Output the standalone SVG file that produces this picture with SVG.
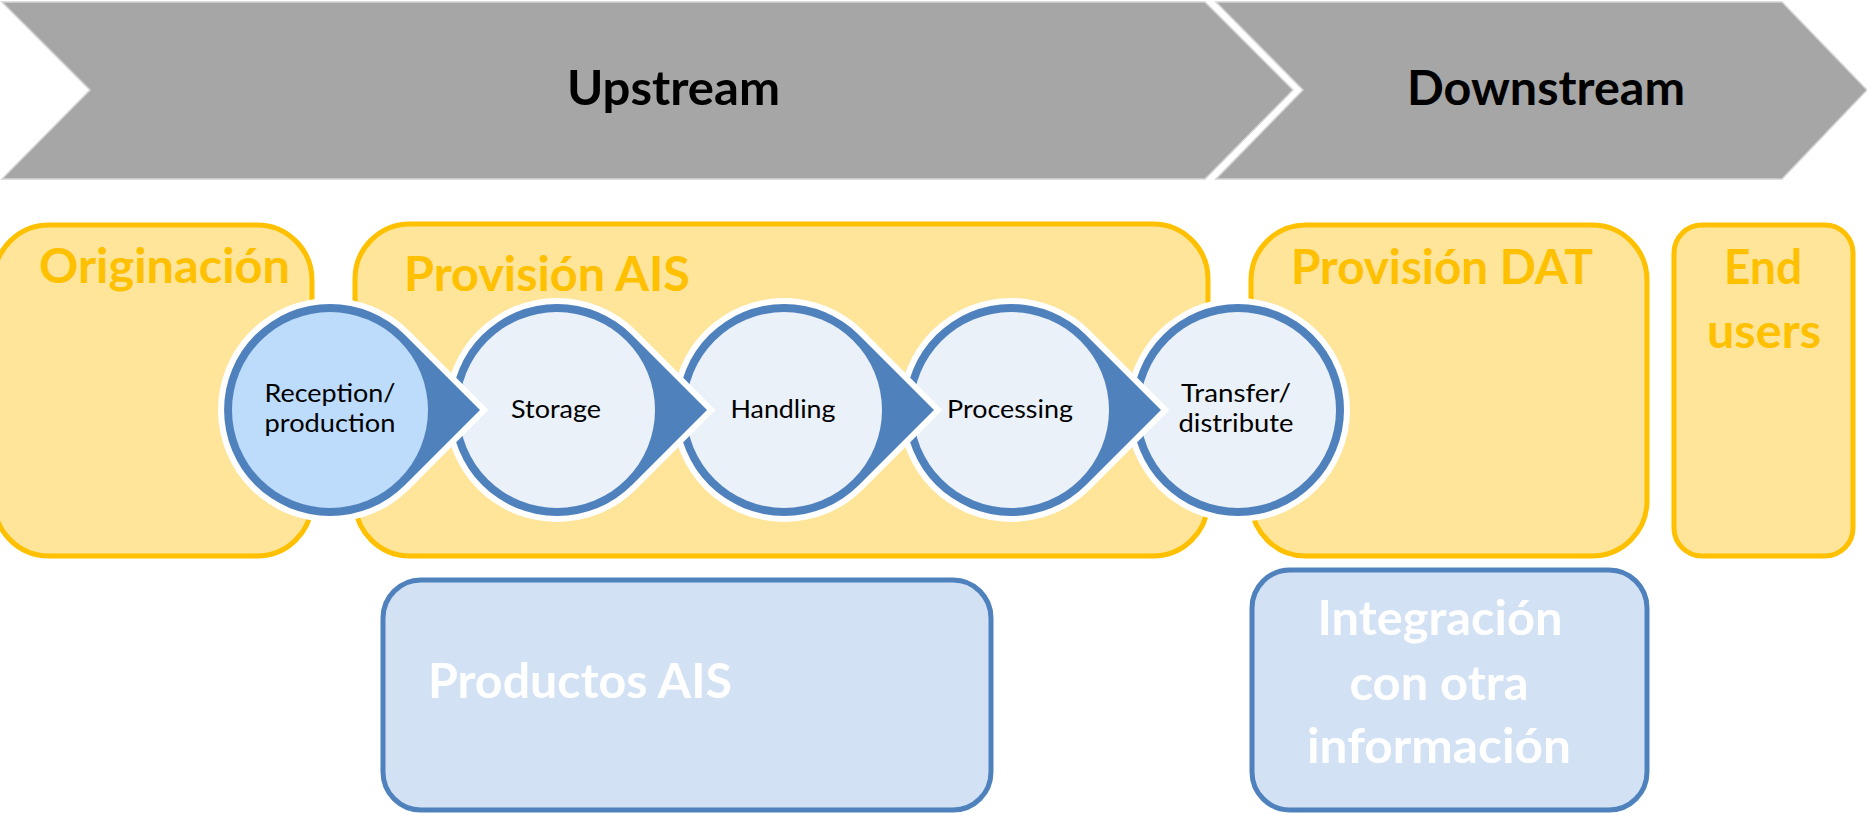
<svg xmlns="http://www.w3.org/2000/svg" width="1867" height="814" viewBox="0 0 1867 814">
<defs>
<style>
.chev{fill:#A6A6A6;stroke:#D4D4D4;stroke-width:1.5}
.ybox{fill:#FFE599;stroke:#FFC000;stroke-width:5}
.bbox{fill:#D2E1F3;stroke:#4F81BD;stroke-width:5}
.ring{fill:#FFFFFF}
.blue{fill:#4F81BD}
.inner{fill:#EBF1F9}
.inner1{fill:#BDDBFB}
.head{font-family:Lato,"Open Sans","Liberation Sans",sans-serif;font-weight:700;font-size:47px;fill:#000}
.ytxt{font-family:Lato,"Open Sans","Liberation Sans",sans-serif;font-weight:700;font-size:47px;fill:#FFC000}
.wtxt{font-family:Lato,"Open Sans","Liberation Sans",sans-serif;font-weight:700;font-size:48px;fill:#FFFFFF}
.ctxt{font-family:Lato,"Open Sans","Liberation Sans",sans-serif;font-weight:400;font-size:25px;fill:#000;text-anchor:middle}
</style>
</defs>
<rect width="1867" height="814" fill="#FFFFFF"/>

<g id="upstream">
<polygon class="chev" points="2,2 1205,2 1293,90 1205,179 2,179 90,90"/>
<text class="head" x="567" y="105" textLength="213" lengthAdjust="spacingAndGlyphs">Upstream</text>
</g>
<g id="downstream">
<polygon class="chev" points="1216,2 1782,2 1867,90 1782,179 1216,179 1303,90"/>
<text class="head" x="1407" y="105" textLength="278" lengthAdjust="spacingAndGlyphs">Downstream</text>
</g>

<g id="originacion">
<rect class="ybox" x="-6" y="225" width="318" height="331" rx="55" ry="55"/>
<text class="ytxt" x="39" y="283" textLength="251" lengthAdjust="spacingAndGlyphs">Originación</text>
</g>
<g id="provision-ais">
<rect class="ybox" x="355" y="224" width="853" height="332" rx="55" ry="55"/>
<text class="ytxt" x="404" y="291" textLength="286" lengthAdjust="spacingAndGlyphs">Provisión AIS</text>
</g>
<g id="provision-dat">
<rect class="ybox" x="1251" y="225" width="396" height="331" rx="55" ry="55"/>
<text class="ytxt" x="1291" y="284" textLength="302" lengthAdjust="spacingAndGlyphs">Provisión DAT</text>
</g>
<g id="end-users">
<rect class="ybox" x="1674" y="225" width="179" height="331" rx="28" ry="28"/>
<text class="ytxt" x="1763" y="284" text-anchor="middle" textLength="78" lengthAdjust="spacingAndGlyphs">End</text>
<text class="ytxt" x="1764" y="348" text-anchor="middle" textLength="114" lengthAdjust="spacingAndGlyphs">users</text>
</g>

<g id="productos-ais">
<rect class="bbox" x="383" y="580" width="608" height="230" rx="38" ry="38"/>
<text class="wtxt" x="428" y="698" textLength="304" lengthAdjust="spacingAndGlyphs">Productos AIS</text>
</g>
<g id="integracion">
<rect class="bbox" x="1252" y="570" width="395" height="240" rx="38" ry="38"/>
<text class="wtxt" x="1440" y="635" text-anchor="middle" textLength="245" lengthAdjust="spacingAndGlyphs">Integración</text>
<text class="wtxt" x="1439" y="700" text-anchor="middle" textLength="179" lengthAdjust="spacingAndGlyphs">con otra</text>
<text class="wtxt" x="1439" y="763" text-anchor="middle" textLength="264" lengthAdjust="spacingAndGlyphs">información</text>
</g>

<g id="connectors"></g>

<g id="transfer">
<circle class="ring" cx="1238" cy="410" r="112"/>
<circle class="blue" cx="1238" cy="410" r="106"/>
<circle class="inner" cx="1238" cy="410" r="98"/>
<text class="ctxt" x="1236" y="402" textLength="110" lengthAdjust="spacingAndGlyphs">Transfer/</text>
<text class="ctxt" x="1236" y="432" textLength="115" lengthAdjust="spacingAndGlyphs">distribute</text>
</g>
<g id="processing">
<path class="ring" d="M1090.2,330.8 L1169.4,410 L1090.2,489.2 A112,112 0 1 1 1090.2,330.8 Z"/>
<path class="blue" d="M1086,335 L1161,410 L1086,485 A106,106 0 1 1 1086,335 Z"/>
<circle class="inner" cx="1011" cy="410" r="98"/>
<text class="ctxt" x="1010" y="418" textLength="126" lengthAdjust="spacingAndGlyphs">Processing</text>
</g>
<g id="handling">
<path class="ring" d="M863.2,330.8 L942.4,410 L863.2,489.2 A112,112 0 1 1 863.2,330.8 Z"/>
<path class="blue" d="M859,335 L934,410 L859,485 A106,106 0 1 1 859,335 Z"/>
<circle class="inner" cx="784" cy="410" r="98"/>
<text class="ctxt" x="783" y="418" textLength="105" lengthAdjust="spacingAndGlyphs">Handling</text>
</g>
<g id="storage">
<path class="ring" d="M636.2,330.8 L715.4,410 L636.2,489.2 A112,112 0 1 1 636.2,330.8 Z"/>
<path class="blue" d="M632,335 L707,410 L632,485 A106,106 0 1 1 632,335 Z"/>
<circle class="inner" cx="557" cy="410" r="98"/>
<text class="ctxt" x="556" y="418" textLength="90" lengthAdjust="spacingAndGlyphs">Storage</text>
</g>
<g id="reception">
<path class="ring" d="M409.2,330.8 L488.4,410 L409.2,489.2 A112,112 0 1 1 409.2,330.8 Z"/>
<path class="blue" d="M405,335 L480,410 L405,485 A106,106 0 1 1 405,335 Z"/>
<circle class="inner1" cx="330" cy="410" r="98"/>
<text class="ctxt" x="330" y="402" textLength="131" lengthAdjust="spacingAndGlyphs">Reception/</text>
<text class="ctxt" x="330" y="432" textLength="131" lengthAdjust="spacingAndGlyphs">production</text>
</g>
</svg>
